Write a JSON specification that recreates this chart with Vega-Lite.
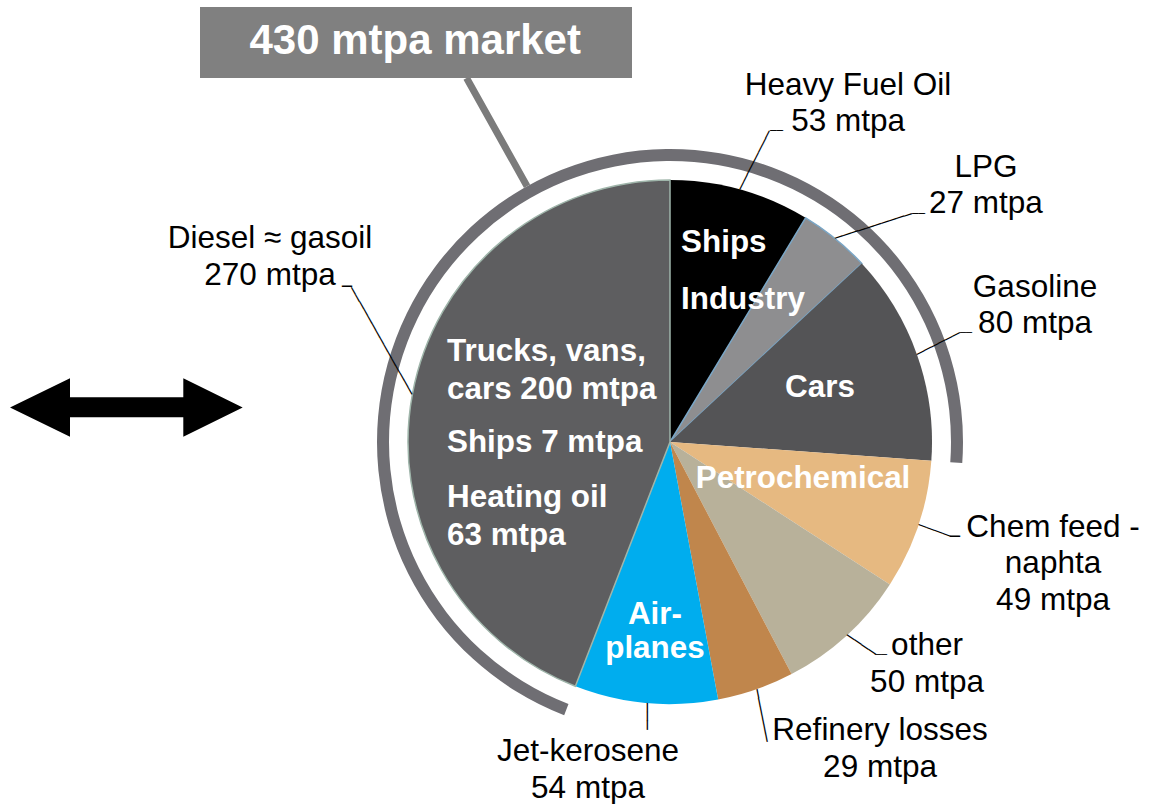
{
  "$schema": "https://vega.github.io/schema/vega-lite/v6.json",
  "width": 966,
  "height": 722,
  "padding": {"left": 187, "top": 81, "right": 0, "bottom": 1},
  "autosize": {"type": "none"},
  "background": "white",
  "config": {"view": {"stroke": null}, "text": {"font": "Liberation Sans"}},
  "datasets": {
    "fuels": [
      {"fuel": "Heavy Fuel Oil", "mtpa": 53, "rank": 1, "segment": "430 mtpa market", "label": "Heavy Fuel Oil\n53 mtpa", "use": "Ships", "use2": "Industry"},
      {"fuel": "LPG", "mtpa": 27, "rank": 2, "segment": "430 mtpa market", "label": "LPG\n27 mtpa"},
      {"fuel": "Gasoline", "mtpa": 80, "rank": 3, "segment": "430 mtpa market", "label": "Gasoline\n80 mtpa", "use": "Cars"},
      {"fuel": "Chem feed - naphta", "mtpa": 49, "rank": 4, "segment": "other products", "label": "Chem feed -\nnaphta\n49 mtpa", "use": "Petrochemical"},
      {"fuel": "other", "mtpa": 50, "rank": 5, "segment": "other products", "label": "other\n50 mtpa"},
      {"fuel": "Refinery losses", "mtpa": 29, "rank": 6, "segment": "other products", "label": "Refinery losses\n29 mtpa"},
      {"fuel": "Jet-kerosene", "mtpa": 54, "rank": 7, "segment": "other products", "label": "Jet-kerosene\n54 mtpa", "use": "Air-\nplanes"},
      {"fuel": "Diesel ≈ gasoil", "mtpa": 270, "rank": 8, "segment": "430 mtpa market", "label": "Diesel ≈ gasoil\n270 mtpa", "use": "Trucks, vans,\ncars 200 mtpa", "use2": "Ships 7 mtpa", "use3": "Heating oil\n63 mtpa"}
    ]
  },
  "data": {"name": "fuels"},
  "resolve": {"scale": {"theta": "independent"}},
  "layer": [
    {
      "transform": [{"aggregate": [{"op": "sum", "field": "mtpa", "as": "total"}], "groupby": ["segment"]}],
      "mark": {"type": "arc", "innerRadius": 281, "outerRadius": 293},
      "encoding": {
        "theta": {"field": "total", "type": "quantitative", "stack": true, "scale": {"range": [3.5112, 9.7944]}},
        "order": {"field": "segment", "type": "ordinal", "sort": "ascending"},
        "fill": {"condition": {"test": "datum.segment === '430 mtpa market'", "value": "#6f6e73"}, "value": "transparent"}
      }
    },
    {
      "transform": [{"aggregate": [{"op": "sum", "field": "mtpa", "as": "total"}], "groupby": ["segment"]}],
      "mark": {"type": "arc", "innerRadius": 293, "outerRadius": 417, "padAngle": 3, "fill": "transparent", "stroke": "#7b7b7b", "strokeWidth": 7, "strokeCap": "butt"},
      "encoding": {
        "theta": {"field": "total", "type": "quantitative", "stack": true, "scale": {"range": [0.4246, 6.7078]}},
        "order": {"field": "segment", "type": "ordinal", "sort": "ascending"},
        "strokeOpacity": {"condition": {"test": "datum.segment === 'other products'", "value": 1}, "value": 0}
      }
    },
    {
      "transform": [{"aggregate": [{"op": "sum", "field": "mtpa", "as": "total"}]}],
      "mark": {"type": "point", "shape": "M-470,-435H-38V-364H-470Z", "size": 4, "filled": true, "fill": "#808080", "opacity": 1, "strokeWidth": 0}
    },
    {
      "transform": [{"aggregate": [{"op": "sum", "field": "mtpa", "as": "total"}], "groupby": ["segment"]}],
      "mark": {"type": "text", "radius": 450, "dx": -14, "dy": -8, "align": "center", "baseline": "alphabetic", "fontSize": 42, "fontWeight": "bold", "fill": "#ffffff"},
      "encoding": {
        "theta": {"field": "total", "type": "quantitative", "stack": true, "scale": {"range": [3.5112, 9.7944]}},
        "order": {"field": "segment", "type": "ordinal", "sort": "ascending"},
        "text": {"condition": {"test": "datum.segment === '430 mtpa market'", "field": "segment", "type": "nominal"}, "value": ""}
      }
    },
    {
      "transform": [{"aggregate": [{"op": "sum", "field": "mtpa", "as": "total"}]}],
      "mark": {"type": "point", "shape": "M-660,-34.5L-600,-63.7V-44.7H-486.7V-63.7L-427.3,-34.5L-486.7,-5.3V-24.7H-600V-5.3Z", "size": 4, "filled": true, "fill": "#000000", "opacity": 1, "strokeWidth": 0}
    },
    {
      "encoding": {
        "theta": {"field": "mtpa", "type": "quantitative", "stack": true},
        "order": {"field": "rank", "type": "quantitative", "sort": "ascending"}
      },
      "layer": [
        {
          "mark": {"type": "arc", "outerRadius": 262, "strokeWidth": 1.5},
          "encoding": {
            "color": {"field": "fuel", "type": "nominal", "legend": null,
              "scale": {"domain": ["Heavy Fuel Oil", "LPG", "Gasoline", "Chem feed - naphta", "other", "Refinery losses", "Jet-kerosene", "Diesel ≈ gasoil"],
                        "range": ["#000000", "#8e8e90", "#545456", "#e6b981", "#b8b19a", "#c0864c", "#00adee", "#5e5e60"]}},
            "stroke": {"condition": [{"test": "datum.rank === 8", "value": "#9fb5aa"}, {"test": "datum.rank === 2", "value": "#7aa6c6"}], "value": "transparent"}
          }
        },
        {
          "mark": {"type": "text", "radius": 262, "align": "left", "baseline": "middle", "font": "DejaVu Sans Mono", "fill": "#000000"},
          "encoding": {
            "text": {"condition": [
              {"test": "datum.rank === 1", "value": "────────"},
              {"test": "datum.rank === 2", "value": "──────────"},
              {"test": "datum.rank === 3", "value": "──────"},
              {"test": "datum.rank === 4", "value": "────"},
              {"test": "datum.rank === 5", "value": "────"},
              {"test": "datum.rank === 6", "value": "──────"},
              {"test": "datum.rank === 7", "value": "───"},
              {"test": "datum.rank === 8", "value": "───────────────"}
            ], "value": ""},
            "angle": {"condition": [
              {"test": "datum.rank === 1", "value": 296.8},
              {"test": "datum.rank === 2", "value": 342.2},
              {"test": "datum.rank === 3", "value": 333.0},
              {"test": "datum.rank === 4", "value": 20.3},
              {"test": "datum.rank === 5", "value": 34.2},
              {"test": "datum.rank === 6", "value": 79.0},
              {"test": "datum.rank === 7", "value": 90},
              {"test": "datum.rank === 8", "value": 240.5}
            ], "value": 0},
            "size": {"condition": [
              {"test": "datum.rank === 1", "value": 13.64},
              {"test": "datum.rank === 2", "value": 13.39},
              {"test": "datum.rank === 3", "value": 13.34},
              {"test": "datum.rank === 4", "value": 14.0},
              {"test": "datum.rank === 5", "value": 14.33},
              {"test": "datum.rank === 6", "value": 14.81},
              {"test": "datum.rank === 7", "value": 14.95},
              {"test": "datum.rank === 8", "value": 13.59}
            ], "value": 14}
          }
        },
        {"mark": {"type": "text", "radius": 262, "dx": 29.6, "dy": -58.6, "align": "left", "baseline": "middle", "font": "DejaVu Sans Mono", "fontSize": 10.8, "fill": "#000000"},
         "encoding": {"text": {"condition": {"test": "datum.rank === 1", "value": "──"}, "value": ""}}},
        {"mark": {"type": "text", "radius": 262, "dx": 76.7, "dy": -24.7, "align": "left", "baseline": "middle", "font": "DejaVu Sans Mono", "fontSize": 10.8, "fill": "#000000"},
         "encoding": {"text": {"condition": {"test": "datum.rank === 2", "value": "──"}, "value": ""}}},
        {"mark": {"type": "text", "radius": 262, "dx": 42.9, "dy": -21.9, "align": "left", "baseline": "middle", "font": "DejaVu Sans Mono", "fontSize": 10, "fill": "#000000"},
         "encoding": {"text": {"condition": {"test": "datum.rank === 3", "value": "──"}, "value": ""}}},
        {"mark": {"type": "text", "radius": 262, "dx": 31.6, "dy": 11.7, "align": "left", "baseline": "middle", "font": "DejaVu Sans Mono", "fontSize": 16.6, "fill": "#000000"},
         "encoding": {"text": {"condition": {"test": "datum.rank === 4", "value": "─"}, "value": ""}}},
        {"mark": {"type": "text", "radius": 262, "dx": 28.5, "dy": 19.4, "align": "left", "baseline": "middle", "font": "DejaVu Sans Mono", "fontSize": 10, "fill": "#000000"},
         "encoding": {"text": {"condition": {"test": "datum.rank === 5", "value": "──"}, "value": ""}}},
        {"mark": {"type": "text", "radius": 262, "dx": -60.5, "dy": -106.8, "align": "right", "baseline": "middle", "font": "DejaVu Sans Mono", "fontSize": 16.6, "fill": "#000000"},
         "encoding": {"text": {"condition": {"test": "datum.rank === 8", "value": "─"}, "value": ""}}},

        {"mark": {"type": "text", "radius": 382, "dx": 75.4, "dy": 20.9, "align": "center", "baseline": "alphabetic", "fontSize": 31.5, "lineHeight": 36, "lineBreak": "\n", "fill": "#000000"},
         "encoding": {"text": {"condition": {"test": "datum.rank === 1", "field": "label", "type": "nominal"}, "value": ""}}},
        {"mark": {"type": "text", "radius": 405, "dx": 60.4, "dy": 49.2, "align": "center", "baseline": "alphabetic", "fontSize": 31.5, "lineHeight": 36, "lineBreak": "\n", "fill": "#000000"},
         "encoding": {"text": {"condition": {"test": "datum.rank === 2", "field": "label", "type": "nominal"}, "value": ""}}},
        {"mark": {"type": "text", "radius": 392, "dx": -4.7, "dy": -14.7, "align": "center", "baseline": "alphabetic", "fontSize": 31.5, "lineHeight": 36, "lineBreak": "\n", "fill": "#000000"},
         "encoding": {"text": {"condition": {"test": "datum.rank === 3", "field": "label", "type": "nominal"}, "value": ""}}},
        {"mark": {"type": "text", "radius": 393, "dx": 10.4, "dy": -29.9, "align": "center", "baseline": "alphabetic", "fontSize": 31.5, "lineHeight": 36.5, "lineBreak": "\n", "fill": "#000000"},
         "encoding": {"text": {"condition": {"test": "datum.rank === 4", "field": "label", "type": "nominal"}, "value": ""}}},
        {"mark": {"type": "text", "radius": 330, "dx": 34.7, "dy": -30.9, "align": "center", "baseline": "alphabetic", "fontSize": 31.5, "lineHeight": 37, "lineBreak": "\n", "fill": "#000000"},
         "encoding": {"text": {"condition": {"test": "datum.rank === 5", "field": "label", "type": "nominal"}, "value": ""}}},
        {"mark": {"type": "text", "radius": 350, "dx": 95.4, "dy": -32.7, "align": "center", "baseline": "alphabetic", "fontSize": 31.5, "lineHeight": 37, "lineBreak": "\n", "fill": "#000000"},
         "encoding": {"text": {"condition": {"test": "datum.rank === 6", "field": "label", "type": "nominal"}, "value": ""}}},
        {"mark": {"type": "text", "radius": 324, "dx": -52.1, "dy": -3.6, "align": "center", "baseline": "alphabetic", "fontSize": 31.5, "lineHeight": 37, "lineBreak": "\n", "fill": "#000000"},
         "encoding": {"text": {"condition": {"test": "datum.rank === 7", "field": "label", "type": "nominal"}, "value": ""}}},
        {"mark": {"type": "text", "radius": 429, "dx": 21.7, "dy": -115.1, "align": "center", "baseline": "alphabetic", "fontSize": 31.5, "lineHeight": 37, "lineBreak": "\n", "fill": "#000000"},
         "encoding": {"text": {"condition": {"test": "datum.rank === 8", "field": "label", "type": "nominal"}, "value": ""}}},

        {"mark": {"type": "text", "radius": 200, "dx": -42.7, "dy": 2.6, "align": "left", "baseline": "alphabetic", "fontSize": 31.4, "fontWeight": "bold", "fill": "#ffffff"},
         "encoding": {"text": {"condition": {"test": "datum.rank === 1", "field": "use", "type": "nominal"}, "value": ""}}},
        {"mark": {"type": "text", "radius": 200, "dx": -42.7, "dy": 59.6, "align": "left", "baseline": "alphabetic", "fontSize": 31.4, "fontWeight": "bold", "fill": "#ffffff"},
         "encoding": {"text": {"condition": {"test": "datum.rank === 1", "field": "use2", "type": "nominal"}, "value": ""}}},
        {"mark": {"type": "text", "radius": 200, "dx": -38.6, "dy": 21.5, "align": "center", "baseline": "alphabetic", "fontSize": 31.4, "fontWeight": "bold", "fill": "#ffffff"},
         "encoding": {"text": {"condition": {"test": "datum.rank === 3", "field": "use", "type": "nominal"}, "value": ""}}},
        {"mark": {"type": "text", "radius": 200, "dx": -56.6, "dy": -17.6, "align": "center", "baseline": "alphabetic", "fontSize": 31.4, "fontWeight": "bold", "fill": "#ffffff"},
         "encoding": {"text": {"condition": {"test": "datum.rank === 4", "field": "use", "type": "nominal"}, "value": ""}}},
        {"mark": {"type": "text", "radius": 200, "dx": 3.4, "dy": -17.1, "align": "center", "baseline": "alphabetic", "fontSize": 31.4, "fontWeight": "bold", "lineHeight": 34, "lineBreak": "\n", "fill": "#ffffff"},
         "encoding": {"text": {"condition": {"test": "datum.rank === 7", "field": "use", "type": "nominal"}, "value": ""}}},
        {"mark": {"type": "text", "radius": 200, "dx": -26.4, "dy": -44.2, "align": "left", "baseline": "alphabetic", "fontSize": 31.4, "fontWeight": "bold", "lineHeight": 38, "lineBreak": "\n", "fill": "#ffffff"},
         "encoding": {"text": {"condition": {"test": "datum.rank === 8", "field": "use", "type": "nominal"}, "value": ""}}},
        {"mark": {"type": "text", "radius": 200, "dx": -26.4, "dy": 46.8, "align": "left", "baseline": "alphabetic", "fontSize": 31.4, "fontWeight": "bold", "fill": "#ffffff"},
         "encoding": {"text": {"condition": {"test": "datum.rank === 8", "field": "use2", "type": "nominal"}, "value": ""}}},
        {"mark": {"type": "text", "radius": 200, "dx": -26.4, "dy": 101.8, "align": "left", "baseline": "alphabetic", "fontSize": 31.4, "fontWeight": "bold", "lineHeight": 38, "lineBreak": "\n", "fill": "#ffffff"},
         "encoding": {"text": {"condition": {"test": "datum.rank === 8", "field": "use3", "type": "nominal"}, "value": ""}}}
      ]
    }
  ]
}
